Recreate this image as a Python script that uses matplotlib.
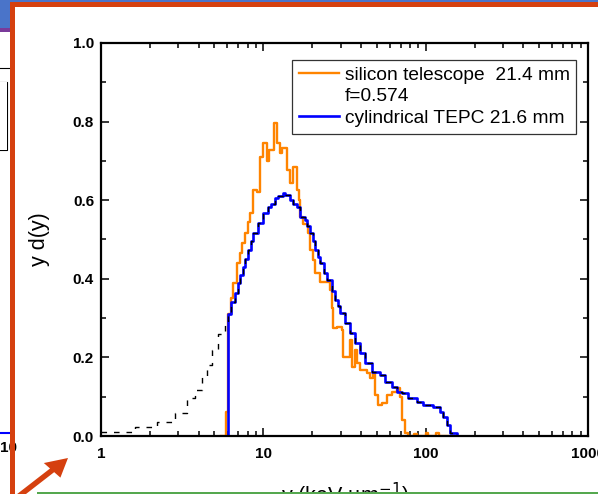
import matplotlib
matplotlib.use("Agg")
import matplotlib.pyplot as plt
from matplotlib.patches import Rectangle, FancyArrow
from matplotlib.lines import Line2D

# --- data (step histograms, left bin edge -> value) ---
si_x = [5.5, 5.87, 6.06, 6.3, 6.5, 6.9, 7.2, 7.4, 7.7, 8.0, 8.3, 8.64, 9.1, 9.6, 9.96,
        10.5, 10.9, 11.64, 12.15, 12.68, 13.0, 14.0, 14.6, 15.24, 16.13, 16.6, 16.83,
        17.56, 18.86, 19.4, 20.24, 20.83, 22.36, 25.76, 26.5, 26.89, 28.45, 30.5, 30.97,
        34.2, 35.2, 36.7, 37.8, 39.4, 43.6, 45.4, 47.4, 48.8, 50.9, 53.9, 57.8, 62.1,
        66.7, 69.5, 71.6, 74.7, 78, 85, 88, 100, 104, 116, 121, 137]
si_y = [0.0, 0.062, 0.31, 0.35, 0.39, 0.44, 0.465, 0.49, 0.517, 0.545, 0.567, 0.626, 0.62,
        0.71, 0.745, 0.70, 0.728, 0.796, 0.745, 0.72, 0.733, 0.677, 0.644, 0.685, 0.626,
        0.60, 0.557, 0.54, 0.517, 0.473, 0.448, 0.415, 0.392, 0.371, 0.326, 0.275, 0.277,
        0.27, 0.20, 0.244, 0.176, 0.219, 0.186, 0.168, 0.16, 0.148, 0.16, 0.104, 0.079,
        0.084, 0.104, 0.112, 0.122, 0.099, 0.041, 0.008, 0.0, 0.006, 0.0, 0.007, 0.0,
        0.008, 0.0, 0.0]

tepc_x = [1, 6.06, 6.3, 6.7, 6.98, 7.2, 7.5, 7.75, 8.05, 8.35, 8.64, 9.28, 9.96, 10.69,
          11.2, 11.8, 12.4, 13.2, 13.6, 14.6, 15.3, 16.13, 16.83, 18.06, 18.7, 19.4, 20.1,
          20.83, 21.6, 22.36, 23.5, 24.7, 26.5, 27.7, 28.7, 29.7, 31.9, 34.2, 36.7, 39.4,
          42.3, 46.7, 52.4, 56.3, 62.1, 66.7, 71.6, 77.9, 88.3, 96.1, 110.8, 122.7, 128.4,
          135.1, 141.4, 156, 1000]
tepc_y = [0.0, 0.31, 0.34, 0.364, 0.389, 0.41, 0.43, 0.45, 0.473, 0.495, 0.517, 0.542,
          0.567, 0.583, 0.59, 0.605, 0.61, 0.618, 0.612, 0.60, 0.59, 0.583, 0.557, 0.55,
          0.535, 0.517, 0.495, 0.473, 0.455, 0.44, 0.415, 0.397, 0.37, 0.346, 0.33, 0.313,
          0.288, 0.262, 0.237, 0.211, 0.186, 0.163, 0.155, 0.137, 0.125, 0.112, 0.109,
          0.097, 0.087, 0.079, 0.074, 0.061, 0.048, 0.028, 0.008, 0.0, 0.0]

# dashed extension below the TEPC threshold
ext_x = [1, 1.62, 2.21, 2.86, 3.39, 3.79, 4.19, 4.5, 4.83, 5.25, 5.8]
ext_y = [0.011, 0.024, 0.035, 0.058, 0.097, 0.117, 0.15, 0.18, 0.22, 0.26, 0.29]

xticks = [1, 10, 100, 1000]
xtick_labels = ["1", "10", "100", "1000"]
yticks = [0.0, 0.2, 0.4, 0.6, 0.8, 1.0]

RED = "#d5400f"
W, H = 598, 494

plt.rcParams["font.family"] = ["Liberation Sans", "DejaVu Sans"]

fig = plt.figure(figsize=(W / 100, H / 100), dpi=100)
ax = fig.add_axes([101 / W, 1 - 436 / H, 487 / W, 393 / H])

si_line, = ax.step(si_x, si_y, where="post", color="#ff8400", lw=1.7)
tepc_line, = ax.step(tepc_x, tepc_y, where="post", color="#0000ff", lw=1.9)
ax.step(ext_x + tepc_x[1:], ext_y + tepc_y[1:], where="post", color="black", lw=1.0,
        dashes=(4, 5), zorder=3)

ax.set_xscale("log")
ax.set_xlim(1, 1000)
ax.set_ylim(0, 1.0)
ax.set_xticks(xticks)
ax.set_xticklabels(xtick_labels)
ax.set_yticks(yticks)
ax.set_yticklabels(["%.1f" % v for v in yticks])
ax.set_yticks([0.1, 0.3, 0.5, 0.7, 0.9], minor=True)
for lab in ax.get_xticklabels() + ax.get_yticklabels():
    lab.set_fontweight("bold")
    lab.set_fontsize(11)
ax.tick_params(which="both", direction="in", top=True, right=True, width=1.1)
ax.tick_params(which="major", length=6)
ax.tick_params(which="minor", length=3.6)
ax.tick_params(axis="x", pad=8)
ax.tick_params(axis="y", pad=5)
for s in ax.spines.values():
    s.set_linewidth(1.6)

ax.set_xlabel("y (keV \u00b5m$^{-1}$)", fontsize=15.5)
ax.xaxis.set_label_coords(0.5, -0.114)
ax.set_ylabel("y d(y)", fontsize=15.5)
ax.yaxis.set_label_coords(-0.104, 0.5)

blank = Line2D([], [], color="none")
leg = ax.legend([si_line, blank, tepc_line],
                ["silicon telescope  21.4 mm", "f=0.574", "cylindrical TEPC 21.6 mm"],
                loc="upper left", bbox_to_anchor=(0.392, 0.958), fontsize=13.8,
                frameon=True, fancybox=False, edgecolor="black", handlelength=2.1,
                handletextpad=0.3, borderaxespad=0, borderpad=0.35, labelspacing=0.22)
leg.get_frame().set_linewidth(0.9)


# --- slide decorations around the chart (pixel coords from top-left) ---
def px_rect(x0, y0, w, h, color, z=10):
    fig.add_artist(Rectangle((x0 / W, 1 - (y0 + h) / H), w / W, h / H,
                             transform=fig.transFigure, color=color, lw=0, zorder=z))


px_rect(0, 0, W, 2.5, "#4a74c9")
px_rect(0, 0, 11, 28, "#4a74c9")
px_rect(0, 28, 11, 4, "#7a3a9a")
px_rect(0, 82, 7, 68, "white")
fig.add_artist(Line2D([0, 7 / W, 7 / W, 0], [1 - 82 / H, 1 - 82 / H, 1 - 150 / H, 1 - 150 / H],
                      transform=fig.transFigure, color="black", lw=0.8))
fig.add_artist(Line2D([0, 10 / W], [1 - 68 / H, 1 - 68 / H], transform=fig.transFigure,
                      color="black", lw=0.8))
fig.add_artist(Line2D([0, 10 / W], [1 - 433 / H, 1 - 433 / H], transform=fig.transFigure,
                      color="blue", lw=1.5))
fig.text(0, 1 - 448 / H, "10", fontsize=11, fontweight="bold", va="center", ha="left")
px_rect(10, 2, W - 10, 5, RED, z=11)
px_rect(10, 2, 5, H - 2, RED, z=11)
px_rect(37, 492, W - 37, 3, "#55a84f", z=11)
fig.add_artist(FancyArrow(19 / W, 1 - 496 / H, 49 / W, 38 / H, width=5 / H,
                          head_width=20 / H, head_length=18 / H,
                          length_includes_head=True, transform=fig.transFigure,
                          color=RED, lw=0, zorder=12))

fig.savefig("out.png", dpi=100)
